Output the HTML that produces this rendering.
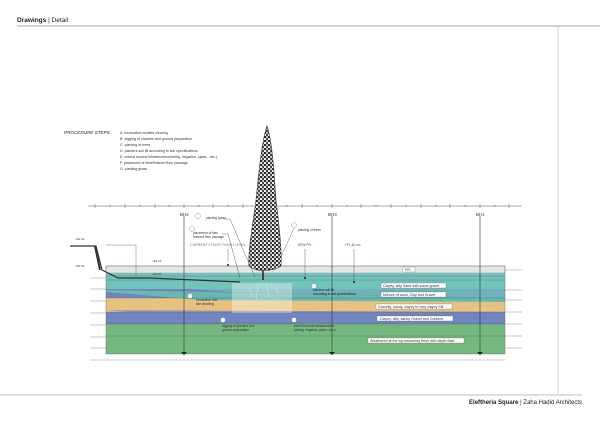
<!DOCTYPE html>
<html><head><meta charset="utf-8"><style>
body{margin:0;background:#fff;}
svg{display:block;font-family:"Liberation Sans",sans-serif;}
</style></head><body>
<svg width="600" height="423" viewBox="0 0 600 423" xmlns="http://www.w3.org/2000/svg">
<defs>
<pattern id="leaf" width="4" height="4" patternUnits="userSpaceOnUse">
<rect width="4" height="4" fill="#fff"/>
<circle cx="1" cy="1" r="1.2" fill="#222"/>
<circle cx="3" cy="3" r="1.1" fill="#333"/>
<circle cx="3" cy="1" r="0.6" fill="#444"/>
</pattern>
</defs>
<text x="17" y="22" font-size="6.5" font-weight="bold" fill="#222">Drawings <tspan font-weight="normal">| Detail</tspan></text>
<line x1="17" y1="26" x2="600" y2="26" stroke="#bbb" stroke-width="1.2"/>
<line x1="558" y1="26" x2="558" y2="395" stroke="#ccc" stroke-width="0.8"/>
<line x1="0" y1="395" x2="582" y2="395" stroke="#aaa" stroke-width="0.8"/>
<text x="582" y="404" font-size="6" text-anchor="end" fill="#222"><tspan font-weight="bold">Eleftheria Square</tspan> | Zaha Hadid Architects</text>

<text x="64" y="134" font-size="4.6" font-style="italic" fill="#222">PROCEDURE STEPS:</text>
<g font-size="3.6" fill="#333">
<text x="120" y="134">A.  excavation andsite clearing</text>
<text x="120" y="140">B.  digging of planters and ground preparation</text>
<text x="120" y="146">C.  planting of trees</text>
<text x="120" y="152">D. planters soil fill according to soil specifications</text>
<text x="120" y="158">E. extend around infrastructure(wiring, irrigation, pipes,...etc.)</text>
<text x="120" y="164">F. placement of tiled/finished floor package</text>
<text x="120" y="170">G. planting grass</text>
</g>

<line x1="88" y1="206" x2="522" y2="206" stroke="#555" stroke-width="0.6"/>
<g stroke="#555" stroke-width="0.5">
<path d="M95 204v4M110 205v2M125 204v4M140 205v2M155 204v4M169 205v2M184 204v4M199 205v2M213 204v4M228 205v2M243 204v4M258 205v2M272 204v4M287 205v2M302 204v4M317 205v2M332 204v4M347 205v2M361 204v4M376 205v2M391 204v4M406 205v2M421 204v4M436 205v2M450 204v4M465 205v2M480 204v4M495 205v2M509 204v4"/>
</g>

<rect x="106" y="266" width="399" height="7" fill="#e6e6e6" stroke="#888" stroke-width="0.4"/>
<rect x="106" y="273" width="399" height="16" fill="#72c4ba"/>
<rect x="106" y="289" width="399" height="9" fill="#7184bf"/>
<rect x="106" y="298" width="399" height="14" fill="#e6c17f"/>
<rect x="106" y="312" width="399" height="12" fill="#7184bf"/>
<rect x="106" y="324" width="399" height="30" fill="#74b87e"/>
<path d="M106 283 L230 292 L505 298 L505 289 L106 275Z" fill="#72c4ba" opacity="0.7"/>
<path d="M106 292 L200 300 L505 302 L505 298 L106 290Z" fill="#66b8b0"/>
<path d="M106 310 L230 322 L505 324 L505 312Z" fill="#7184bf" opacity="0.6"/>
<g stroke="#345" stroke-width="0.4" opacity="0.6">
<line x1="106" y1="276" x2="505" y2="276"/><line x1="106" y1="280" x2="505" y2="280"/>
<line x1="106" y1="298" x2="505" y2="298"/><line x1="106" y1="312" x2="505" y2="312"/>
<line x1="106" y1="324" x2="505" y2="324"/><line x1="106" y1="336" x2="505" y2="336"/>
</g>
<rect x="232" y="283" width="60" height="30" fill="#fff" opacity="0.35"/>
<rect x="106" y="266" width="399" height="88" fill="none" stroke="#666" stroke-width="0.4"/>
<line x1="90" y1="360" x2="505" y2="360" stroke="#999" stroke-width="0.5"/>
<g stroke="#777" stroke-width="0.4">
<line x1="90" y1="278" x2="106" y2="278"/><line x1="90" y1="289" x2="106" y2="289"/><line x1="90" y1="301" x2="106" y2="301"/><line x1="90" y1="313" x2="106" y2="313"/><line x1="90" y1="325" x2="106" y2="325"/><line x1="90" y1="337" x2="106" y2="337"/><line x1="90" y1="348" x2="106" y2="348"/>
<line x1="505" y1="270" x2="522" y2="270"/><line x1="505" y1="290" x2="522" y2="290"/><line x1="505" y1="300" x2="522" y2="300"/><line x1="505" y1="312" x2="522" y2="312"/><line x1="505" y1="324" x2="522" y2="324"/><line x1="505" y1="336" x2="522" y2="336"/><line x1="505" y1="348" x2="522" y2="348"/>
</g>
<path d="M70 246 L96 246 L102 270 L118 278 L150 278 L240 282" fill="none" stroke="#333" stroke-width="1.2"/>
<path d="M95 246 L100 270" stroke="#333" stroke-width="2"/>
<g font-size="3" fill="#333"><text x="75" y="240">+60.40</text><text x="75" y="267">+50.34</text><text x="152" y="262">+50.32</text><text x="152" y="275">+50.30</text></g>
<path d="M106 245 H136 V276" fill="none" stroke="#555" stroke-width="0.4"/>

<g stroke="#333" stroke-width="0.6"><line x1="184" y1="216" x2="184" y2="352"/><line x1="332" y1="216" x2="332" y2="352"/><line x1="480" y1="216" x2="480" y2="352"/></g>
<g fill="#222"><path d="M181 352h6l-3 3z"/><path d="M329 352h6l-3 3z"/><path d="M477 352h6l-3 3z"/></g>
<g font-size="4.5" fill="#333"><text x="180" y="216">BH2</text><text x="328" y="216">BH3</text><text x="476" y="216">BH1</text></g>

<g font-size="3.2" fill="#333">
<text x="206" y="219">planting grass</text>
<text x="193" y="234">placement of tiles</text><text x="193" y="238">finished floor package</text>
<text x="190" y="246" fill="#777" font-size="3.6">CURRENT FLOOR FINISH LEVEL</text>
<text x="298" y="231">planting of trees</text>
<text x="298" y="246" fill="#555">NEW PFL</text>
<text x="345" y="246" fill="#555">FFL-60 cm</text>
<text x="196" y="301">excavation and</text><text x="196" y="305">site cleaning</text>
<text x="222" y="327">digging of planters and</text><text x="222" y="331">ground preparation</text>
<text x="294" y="327">extend around infrastructure</text><text x="294" y="331">(wiring, irrigation, pipes...etc.)</text>
<text x="313" y="291" fill="#123">planters soil fill</text><text x="313" y="295" fill="#123">according to soil specifications</text>
</g>
<g fill="#fff" stroke="#555" stroke-width="0.3"><circle cx="198" cy="216" r="2.5"/><circle cx="192" cy="229" r="2.5"/><circle cx="294" cy="225" r="2.5"/><circle cx="190" cy="296" r="2.5"/><circle cx="223" cy="320" r="2.5"/><circle cx="294" cy="320" r="2.5"/><circle cx="314" cy="286" r="2.5"/></g>
<g stroke="#444" stroke-width="0.4" fill="none"><path d="M224 219 H230 L255 277"/><path d="M222 234 H228 L240 278"/><path d="M294 228 L275 270"/><path d="M228 249 V262"/><path d="M305 249 V278"/><path d="M354 249 V282"/></g>
<g fill="#222"><circle cx="228" cy="265" r="1"/><circle cx="305" cy="278" r="1"/><circle cx="354" cy="282" r="1"/></g>

<g font-size="3.6" fill="#333">
<rect x="403" y="267" width="12" height="5" fill="#fff" stroke="#666" stroke-width="0.3"/><text x="405" y="271">FFL</text>
<rect x="381" y="283" width="65" height="5" fill="#fff" stroke="#666" stroke-width="0.3"/><text x="383" y="287">Clayey, silty Sand with some gravel</text>
<rect x="381" y="292" width="65" height="5" fill="#fff" stroke="#666" stroke-width="0.3"/><text x="383" y="296">Mixture of sand, Clay and Gravel</text>
<rect x="376" y="304" width="76" height="5" fill="#fff" stroke="#666" stroke-width="0.3"/><text x="378" y="308">Gravelly, sandy, clayey to very clayey Silt</text>
<rect x="377" y="316" width="76" height="5" fill="#fff" stroke="#666" stroke-width="0.3"/><text x="380" y="320">Clayey, silty, sandy Gravel  and Cobbles</text>
<rect x="368" y="338" width="96" height="5" fill="#fff" stroke="#666" stroke-width="0.3"/><text x="370" y="342">Weathered at the top becoming fresh with depth Marl</text>
</g>

<line x1="263" y1="260" x2="263" y2="280" stroke="#222" stroke-width="1.5"/>
<path d="M267 126 C262 140 259 170 256 200 C252 230 248 250 249 266 C256 272 272 272 281 266 C282 250 279 225 276 200 C274 170 272 140 267 126Z" fill="url(#leaf)" stroke="#333" stroke-width="0.6"/>
<path d="M248 286 L252 296 M258 285 L256 300 M266 284 L270 298 M274 285 L279 294" stroke="#ddd" stroke-width="0.6"/>
</svg>
</body></html>
